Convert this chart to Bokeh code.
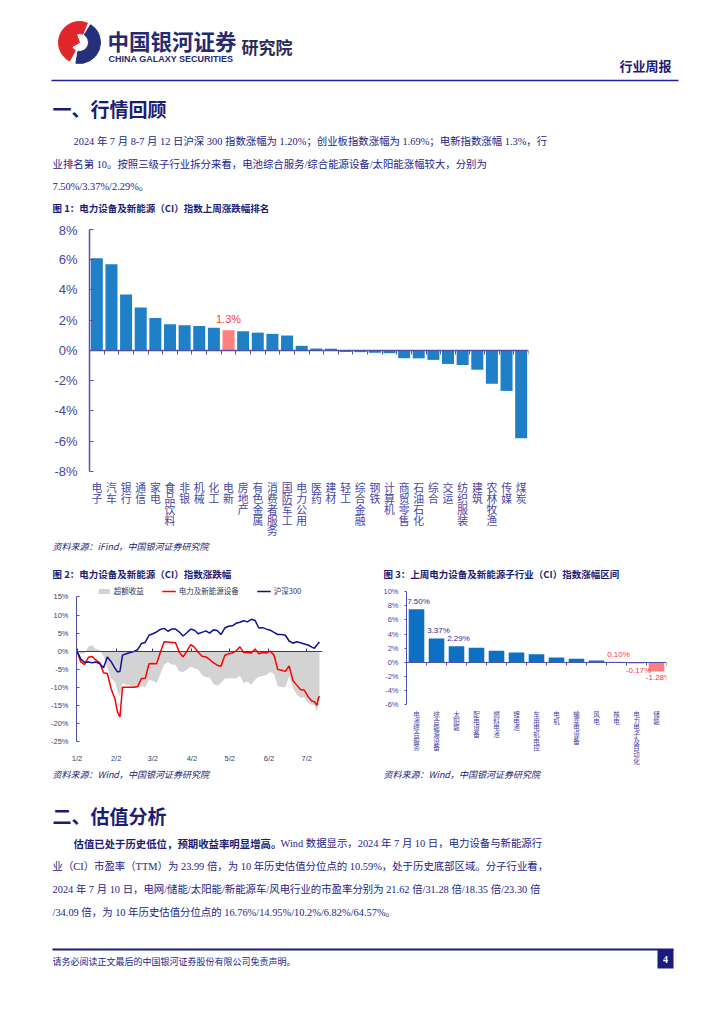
import pandas as pd
from bokeh.plotting import figure
from bokeh.layouts import column, row
from bokeh.models import (Range1d, FixedTicker, LinearAxis, PrintfTickFormatter,
                          Legend, LegendItem, ColumnDataSource)
from bokeh.core.properties import value
from bokeh.embed import file_html
from bokeh.resources import INLINE

CJK = "Noto Sans CJK SC"
MIX = "Liberation Serif, Noto Sans CJK SC"
NAVY = "#1c1c74"
TEXT = "#24248a"
AXIS_BLUE = "#5252ae"
LABEL_BLUE = "#4646a5"

# ---------------- data ----------------
rank_cats = ["电子", "汽车", "银行", "通信", "家电", "食品饮料", "非银", "机械", "化工", "电新",
             "房地产", "有色金属", "消费者服务", "国防军工", "电力公用", "医药", "建材", "轻工",
             "综合金融", "钢铁", "计算机", "商贸零售", "石油石化", "综合", "交运", "纺织服装",
             "建筑", "农林牧渔", "传媒", "煤炭"]
rank_vals = [6.10, 5.70, 3.71, 2.85, 2.15, 1.73, 1.67, 1.62, 1.51, 1.34,
             1.27, 1.18, 1.10, 0.99, 0.31, 0.13, 0.12, -0.10,
             -0.11, -0.15, -0.18, -0.51, -0.52, -0.62, -0.89, -0.96,
             -1.27, -2.20, -2.67, -5.80]
rank_highlight = "电新"
rank_highlight_label = "1.3%"
rank_yticks = [-8, -6, -4, -2, 0, 2, 4, 6, 8]

line_dates = ["2024-01-02", "2024-01-05", "2024-01-08", "2024-01-11", "2024-01-14", "2024-01-17",
              "2024-01-20", "2024-01-23", "2024-01-26", "2024-01-29", "2024-02-01", "2024-02-03",
              "2024-02-05", "2024-02-07", "2024-02-10", "2024-02-13", "2024-02-16", "2024-02-19",
              "2024-02-22", "2024-02-25", "2024-02-28", "2024-03-02", "2024-03-05", "2024-03-08",
              "2024-03-11", "2024-03-14", "2024-03-17", "2024-03-20", "2024-03-23", "2024-03-26",
              "2024-03-29", "2024-04-01", "2024-04-04", "2024-04-07", "2024-04-10", "2024-04-13",
              "2024-04-16", "2024-04-19", "2024-04-22", "2024-04-25", "2024-04-28", "2024-05-01",
              "2024-05-04", "2024-05-07", "2024-05-10", "2024-05-13", "2024-05-16", "2024-05-19",
              "2024-05-22", "2024-05-25", "2024-05-28", "2024-05-31", "2024-06-03", "2024-06-06",
              "2024-06-09", "2024-06-12", "2024-06-15", "2024-06-18", "2024-06-21", "2024-06-24",
              "2024-06-27", "2024-06-30", "2024-07-03", "2024-07-06", "2024-07-08", "2024-07-10",
              "2024-07-11", "2024-07-12"]
hs300 = [0.0, -2.2, -3.1, -3.0, -3.2, -3.0, -3.5, -4.6, -1.6, -2.9, -4.7, -5.7,
         -5.6, -1.1, -0.7, -0.4, -0.1, 0.4, 2.1, 2.4, 4.4, 4.8, 5.3, 6.0,
         6.3, 5.5, 6.1, 6.1, 5.3, 4.2, 5.1, 6.1, 5.8, 4.8, 5.2, 5.6,
         5.0, 5.9, 5.7, 4.6, 6.4, 6.9, 7.0, 7.7, 8.0, 8.4, 8.1, 8.8,
         8.5, 6.4, 6.5, 6.1, 5.8, 5.2, 4.6, 4.6, 4.4, 2.8, 2.2, 2.6,
         2.3, 2.0, 1.7, 1.1, 0.8, 1.7, 2.1, 2.5]
cn_equip = [0.0, -3.0, -3.7, -1.7, -1.5, -2.5, -3.2, -6.0, -6.2, -10.4, -13.2, -16.8,
            -18.2, -10.0, -10.0, -10.0, -10.0, -9.8, -7.6, -7.6, -3.5, -3.4, -3.5, -0.3,
            2.6, 2.5, 2.4, 2.3, -0.3, -1.6, 0.0, 1.8, 1.1, -0.3, -1.4, -1.6,
            -2.3, -3.2, -3.9, -4.2, -1.2, -0.7, -0.5, 0.1, 1.2, -0.4, -0.3, -0.5,
            0.6, -0.7, -0.4, -0.5, 0.0, -1.1, -5.1, -5.3, -5.6, -4.1, -8.1, -9.4,
            -10.6, -10.8, -12.6, -13.8, -14.0, -15.0, -13.1, -12.4]
line_xtick_dates = ["2024-01-02", "2024-02-02", "2024-03-02", "2024-04-02",
                    "2024-05-02", "2024-06-02", "2024-07-02"]
line_xtick_labels = ["1/2", "2/2", "3/2", "4/2", "5/2", "6/2", "7/2"]
line_yticks = [-25, -20, -15, -10, -5, 0, 5, 10, 15]
line_names = ["超额收益", "电力及新能源设备", "沪深300"]

sub_cats = ["电池综合服务", "综合能源设备", "太阳能", "配电设备", "燃料电池", "锂电池",
            "车用电机电控", "电机", "输变电设备", "风电", "核电", "电力电子及自动化", "储能"]
sub_vals = [7.50, 3.37, 2.29, 2.07, 1.64, 1.41, 1.13, 0.70, 0.52, 0.28, 0.10, -0.17, -1.28]
sub_labels = ["7.50%", "3.37%", "2.29%", "", "", "", "", "", "", "", "0.10%", "-0.17%", "-1.28%"]
sub_yticks = [-6, -4, -2, 0, 2, 4, 6, 8, 10]

W = 724


# ---------------- helpers ----------------
def canvas(top, bottom):
    p = figure(width=W, height=bottom - top, x_range=Range1d(0, W),
               y_range=Range1d(bottom, top), toolbar_location=None,
               output_backend="svg", x_axis_location=None, y_axis_location=None,
               min_border=0, frame_align=False)
    p.grid.visible = False
    p.outline_line_color = None
    return p


def txt(p, x, y, s, size, color=TEXT, style="normal", align="left", font=CJK):
    p.text(x=[x], y=[y], text=[s], text_font=value(font), text_font_size=f"{size}px",
           text_font_style=style, text_color=color, text_align=align,
           text_baseline="middle")


def style_fig(p):
    p.grid.visible = False
    p.outline_line_color = None
    p.background_fill_color = "white"


def zero_axis(ticks, color, width, tin, tout):
    return LinearAxis(fixed_location=0, ticker=FixedTicker(ticks=ticks),
                      major_label_overrides={t: "" for t in ticks},
                      major_label_text_font_size="1px", major_label_standoff=0,
                      axis_line_color=color, axis_line_width=width,
                      major_tick_line_color=color, major_tick_in=tin, major_tick_out=tout,
                      minor_tick_line_color=None)


def style_yaxis(ax, ticks, size, color, tin, tout, standoff, bounds):
    ax.ticker = FixedTicker(ticks=ticks)
    ax.bounds = bounds
    ax.formatter = PrintfTickFormatter(format="%d%%")
    ax.major_label_text_font = "Liberation Sans"
    ax.major_label_text_font_size = size
    ax.major_label_text_color = color
    ax.axis_line_color = AXIS_BLUE
    ax.major_tick_line_color = AXIS_BLUE
    ax.major_tick_in = tin
    ax.major_tick_out = tout
    ax.minor_tick_line_color = None
    ax.major_label_standoff = standoff


def stacked_labels(p, cats, base_y, first, step, size):
    xs, ys, offs, chars = [], [], [], []
    for i, c in enumerate(cats):
        for k, ch in enumerate(c):
            xs.append(i)
            ys.append(base_y)
            offs.append(first + k * step)
            chars.append(ch)
    p.text(x=xs, y=ys, text=chars, y_offset=offs, text_align="center", text_baseline="top",
           text_font=value(CJK), text_font_size=size, text_color=LABEL_BLUE)


# ---------------- header canvas (page y 0..222) ----------------
A = canvas(0, 222)
A.annular_wedge(x=[79], y=[42], inner_radius=9, outer_radius=21,
                start_angle=-292, end_angle=-118, start_angle_units="deg",
                end_angle_units="deg", color="#e0262b")
A.annular_wedge(x=[79], y=[42], inner_radius=9, outer_radius=21,
                start_angle=-100, end_angle=58, start_angle_units="deg",
                end_angle_units="deg", color="#26307a")
A.wedge(x=[79], y=[42], radius=9, start_angle=-250, end_angle=-150,
        start_angle_units="deg", end_angle_units="deg", color="#e0262b")
txt(A, 107, 40, "中国银河证券", 21.5, "#262a6e", "bold")
txt(A, 108, 58, "CHINA GALAXY SECURITIES", 9, "#262a6e", "bold", font="Liberation Sans")
txt(A, 241, 46, "研究院", 17, "#2b2b55", "bold")
txt(A, 671, 65, "行业周报", 13, NAVY, "bold", align="right")
A.segment(x0=[51], y0=[80], x1=[678], y1=[80], line_color="#23238f", line_width=1.6)
txt(A, 52, 108, "一、行情回顾", 19, NAVY, "bold")
txt(A, 73, 141, "2024 年 7 月 8-7 月 12 日沪深 300 指数涨幅为 1.20%；创业板指数涨幅为 1.69%；电新指数涨幅 1.3%，行", 10.4, TEXT, font=MIX)
txt(A, 52, 164, "业排名第 10。按照三级子行业拆分来看，电池综合服务/综合能源设备/太阳能涨幅较大，分别为", 10.4, TEXT, font=MIX)
txt(A, 52, 186, "7.50%/3.37%/2.29%。", 10.4, TEXT, font=MIX)
txt(A, 52, 207, "图 1：电力设备及新能源（CI）指数上周涨跌幅排名", 9.5, NAVY, "bold")

# ---------------- chart 1 (page y 222..538) ----------------
n1 = len(rank_cats)
idx1 = list(range(n1))
colors1 = ["#ff8080" if c == rank_highlight else "#1f80c8" for c in rank_cats]
src1 = ColumnDataSource(dict(x=idx1, top=rank_vals, color=colors1))
p1 = figure(width=W, height=316, x_range=Range1d(-0.5, n1 - 0.5), y_range=Range1d(-12.43, 8),
            toolbar_location=None, output_backend="svg", frame_align=False,
            x_axis_location=None,
            min_border_left=89, min_border_right=196, min_border_top=7, min_border_bottom=0)
style_fig(p1)
p1.vbar(x="x", top="top", bottom=0, width=0.82, fill_color="color", line_color=None, source=src1)
hi = rank_cats.index(rank_highlight)
p1.text(x=[idx1[hi]], y=[rank_vals[hi]], text=[rank_highlight_label], y_offset=-5,
        text_align="center", text_baseline="bottom", text_color="#ff3b3b",
        text_font=value("Liberation Sans"), text_font_size="11px")
style_yaxis(p1.yaxis[0], rank_yticks, "13px", LABEL_BLUE, 4, 0, 12, (-8, 8))
p1.yaxis[0].axis_line_width = 1.5
stacked_labels(p1, rank_cats, -8, 8, 10.7, "10.8px")
p1.add_layout(zero_axis([i - 0.5 for i in range(n1 + 1)], AXIS_BLUE, 1.5, 4, 0), "above")

# ---------------- middle canvas (page y 538..580) ----------------
C = canvas(538, 580)
txt(C, 52, 546, "资料来源：iFind，中国银河证券研究院", 9, NAVY, "italic")
txt(C, 52, 573, "图 2：电力设备及新能源（CI）指数涨跌幅", 9.5, NAVY, "bold")
txt(C, 383, 573, "图 3：上周电力设备及新能源子行业（CI）指数涨幅区间", 9.5, NAVY, "bold")

# ---------------- chart 2 (page y 580..765, x 0..370) ----------------
ld = pd.to_datetime(line_dates)
excess = [a - b for a, b in zip(cn_equip, hs300)]
src2 = ColumnDataSource(dict(x=ld, hs=hs300, cn=cn_equip, ex=excess))
tick_ms = [int(pd.Timestamp(d).value // 10**6) for d in line_xtick_dates]
p2 = figure(width=370, height=185, x_axis_type="datetime",
            x_range=Range1d(pd.Timestamp("2024-01-01 14:00"), pd.Timestamp("2024-07-14 10:00")),
            y_range=Range1d(-25, 18.44), toolbar_location=None, output_backend="svg",
            frame_align=False,
            min_border_left=76, min_border_right=48, min_border_top=4, min_border_bottom=17)
style_fig(p2)
r_ex = p2.varea(x="x", y1=0, y2="ex", fill_color="#d3d3d3", source=src2)
r_cn = p2.line(x="x", y="cn", line_color="#ff0000", line_width=1.5, source=src2)
r_hs = p2.line(x="x", y="hs", line_color="#10109a", line_width=1.5, source=src2)
style_yaxis(p2.yaxis[0], line_yticks, "7.5px", "#3c3c6e", 3, 0, 8, (-25, 15))
xa2 = p2.xaxis[0]
xa2.ticker = FixedTicker(ticks=tick_ms)
xa2.major_label_overrides = dict(zip(tick_ms, line_xtick_labels))
xa2.axis_line_color = None
xa2.major_tick_line_color = None
xa2.minor_tick_line_color = None
xa2.major_label_standoff = 6
xa2.major_label_text_font = "Liberation Sans"
xa2.major_label_text_font_size = "7.5px"
xa2.major_label_text_color = "#3c3c6e"
p2.add_layout(zero_axis(tick_ms, "#3434a4", 1, 0, 3), "above")
leg = Legend(items=[LegendItem(label=line_names[0], renderers=[r_ex]),
                    LegendItem(label=line_names[1], renderers=[r_cn]),
                    LegendItem(label=line_names[2], renderers=[r_hs])],
             orientation="horizontal", location="top_center",
             label_text_font=CJK, label_text_font_size="7.5px", label_text_color="#333355",
             glyph_width=14, glyph_height=6, label_standoff=3, spacing=18,
             padding=1, margin=1, border_line_color=None, background_fill_alpha=0)
p2.add_layout(leg, "center")

# ---------------- chart 3 (page y 580..765, x 370..724) ----------------
n3 = len(sub_cats)
idx3 = list(range(n3))
colors3 = ["#0e70c2" if v > 0.15 else "#ff7f80" for v in sub_vals]
lbl_colors3 = ["#2e2e8e" if v > 1 else "#ff3333" for v in sub_vals]
lbl_base3 = ["bottom" if v >= 0 else "top" for v in sub_vals]
lbl_off3 = [-3 if v >= 0 else 2 for v in sub_vals]
src3 = ColumnDataSource(dict(x=idx3, top=sub_vals, color=colors3, lbl=sub_labels,
                             lc=lbl_colors3, lb=lbl_base3, lo=lbl_off3))
p3 = figure(width=354, height=185, x_range=Range1d(-0.5, n3 - 0.5), y_range=Range1d(-14.55, 10),
            toolbar_location=None, output_backend="svg", frame_align=False,
            x_axis_location=None,
            min_border_left=36, min_border_right=58, min_border_top=11, min_border_bottom=0)
style_fig(p3)
p3.vbar(x="x", top="top", bottom=0, width=0.78, fill_color="color", line_color=None, source=src3)
p3.text(x="x", y="top", text="lbl", text_color="lc", text_baseline="lb", y_offset="lo",
        x_offset=2, text_align="center", text_font=value("Liberation Sans"),
        text_font_size="8px", source=src3)
style_yaxis(p3.yaxis[0], sub_yticks, "7.5px", LABEL_BLUE, 0, 2, 6, (-6, 10))
stacked_labels(p3, sub_cats, -6, 4, 6.7, "6.5px")
p3.add_layout(zero_axis([i - 0.5 for i in range(n3 + 1)], AXIS_BLUE, 1.2, 3, 0), "above")

# ---------------- bottom canvas (page y 765..1024) ----------------
E = canvas(765, 1024)
txt(E, 52, 774, "资料来源：Wind，中国银河证券研究院", 9, NAVY, "italic")
txt(E, 383, 774, "资料来源：Wind，中国银河证券研究院", 9, NAVY, "italic")
txt(E, 52, 815, "二、估值分析", 19, NAVY, "bold")
txt(E, 73, 843, "估值已处于历史低位，预期收益率明显增高。", 10.4, NAVY, "bold")
txt(E, 280, 843, "Wind 数据显示，2024 年 7 月 10 日，电力设备与新能源行", 10.4, TEXT, font=MIX)
txt(E, 52, 866, "业（CI）市盈率（TTM）为 23.99 倍，为 10 年历史估值分位点的 10.59%，处于历史底部区域。分子行业看，", 10.4, TEXT, font=MIX)
txt(E, 52, 889, "2024 年 7 月 10 日，电网/储能/太阳能/新能源车/风电行业的市盈率分别为 21.62 倍/31.28 倍/18.35 倍/23.30 倍", 10.4, TEXT, font=MIX)
txt(E, 52, 912, "/34.09 倍，为 10 年历史估值分位点的 16.76%/14.95%/10.2%/6.82%/64.57%。", 10.4, TEXT, font=MIX)
E.segment(x0=[52], y0=[949], x1=[673], y1=[949], line_color="#1a1a80", line_width=2)
E.quad(left=[657], right=[673], top=[949], bottom=[968], fill_color="#1a1a80", line_color=None)
txt(E, 665, 959, "4", 10, "white", "bold", align="center", font="Liberation Serif")
txt(E, 52, 961, "请务必阅读正文最后的中国银河证券股份有限公司免责声明。", 9, TEXT)

layout = column(A, p1, C, row(p2, p3, spacing=0), E, spacing=0)
open("out.html", "w").write(file_html(layout, INLINE))
